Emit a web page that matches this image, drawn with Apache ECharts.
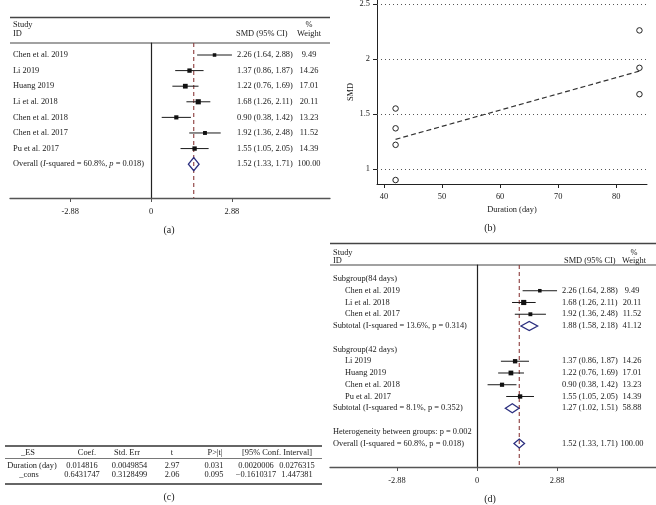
<!DOCTYPE html>
<html><head><meta charset="utf-8">
<script src="https://cdn.jsdelivr.net/npm/echarts@6/dist/echarts.min.js"></script>
<style>html,body{margin:0;padding:0;background:#fff}#c{width:656px;height:505px}</style>
</head><body><div id="c"></div>
<script>
// ---------- data ----------
const studies = ['Chen et al. 2019','Li 2019','Huang 2019','Li et al. 2018','Chen et al. 2018','Chen et al. 2017','Pu et al. 2017'];
const smd = [2.26,1.37,1.22,1.68,0.90,1.92,1.55];
const ciLow = [1.64,0.86,0.76,1.26,0.38,1.36,1.05];
const ciHigh = [2.88,1.87,1.69,2.11,1.42,2.48,2.05];
const weights = [9.49,14.26,17.01,20.11,13.23,11.52,14.39];
const durationDays = [84,42,42,84,42,84,42];

const overallSMD = 1.52, overallLow = 1.33, overallHigh = 1.71, overallWeight = 100.00;
const overallI2 = '60.8%', overallP = '0.018';

const subgroupDays = [84,42];
const subtotalSMD = [1.88,1.27];
const subtotalLow = [1.58,1.02];
const subtotalHigh = [2.18,1.51];
const subtotalWeight = [41.12,58.88];
const subtotalI2 = ['13.6%','8.1%'];
const subtotalP = ['0.314','0.352'];
const heterogeneityP = '0.002';

const forestTicks = [-2.88,0,2.88];
const durationTicks = [40,50,60,70,80];
const smdTicks = [1,1.5,2,2.5];
const fitDays = [42,84];
const fitSMD = [1.27,1.89];

const tableHeader = ['_ES','Coef.','Std. Err','t','P>|t|','[95% Conf. Interval]'];
const tableRowNames = ['Duration (day)','_cons'];
const tableCoef = ['0.014816','0.6431747'];
const tableStdErr = ['0.0049854','0.3128499'];
const tableT = ['2.97','2.06'];
const tableP = ['0.031','0.095'];
const tableCILow = ['0.0020006','\u22120.1610317'];
const tableCIHigh = ['0.0276315','1.447381'];

// ---------- styling ----------
const SERIF = '"Liberation Serif","Times New Roman",serif';
const FS = 8.4;
const TXT = '#1a1a1a';
const NULLC = '#8b3a3a';
const DIAC = '#2b2f7f';
const base = {fontFamily:SERIF, fontSize:FS, fill:TXT};
const fmtCI = (e,l,h) => `${e.toFixed(2)} (${l.toFixed(2)}, ${h.toFixed(2)})`;

// panel a rows
const marksA = studies.map((s,i)=>[smd[i], i, ciLow[i], ciHigh[i], weights[i], 0]);
marksA.push([overallSMD, 7, overallLow, overallHigh, overallWeight, 1]);
const textA = studies.map((s,i)=>({row:i, x:13, label:s, ci:fmtCI(smd[i],ciLow[i],ciHigh[i]), w:weights[i].toFixed(2)}));
textA.push({row:7, x:13,
  label:`{n|Overall (}{i|I}{n|-squared = ${overallI2}, }{i|p}{n| = ${overallP})}`,
  rich:{n:{fontFamily:SERIF,fontSize:FS,fill:TXT}, i:{fontFamily:SERIF,fontSize:FS,fill:TXT,fontStyle:'italic'}},
  ci:fmtCI(overallSMD,overallLow,overallHigh), w:overallWeight.toFixed(2)});

// panel d rows
const marksD = [], textD = [];
let r = 0;
subgroupDays.forEach((d,g)=>{
  textD.push({row:r, x:333, label:`Subgroup(${d} days)`}); r++;
  studies.forEach((s,i)=>{
    if (durationDays[i] !== d) return;
    marksD.push([smd[i], r, ciLow[i], ciHigh[i], weights[i], 0]);
    textD.push({row:r, x:345, label:s, ci:fmtCI(smd[i],ciLow[i],ciHigh[i]), w:weights[i].toFixed(2)});
    r++;
  });
  marksD.push([subtotalSMD[g], r, subtotalLow[g], subtotalHigh[g], subtotalWeight[g], 1]);
  textD.push({row:r, x:333, label:`Subtotal (I-squared = ${subtotalI2[g]}, p = ${subtotalP[g]})`,
    ci:fmtCI(subtotalSMD[g],subtotalLow[g],subtotalHigh[g]), w:subtotalWeight[g].toFixed(2)});
  r += 2;
});
textD.push({row:r, x:333, label:`Heterogeneity between groups: p = ${heterogeneityP}`}); r++;
marksD.push([overallSMD, r, overallLow, overallHigh, overallWeight, 1]);
textD.push({row:r, x:333, label:`Overall (I-squared = ${overallI2}, p = ${overallP})`,
  ci:fmtCI(overallSMD,overallLow,overallHigh), w:overallWeight.toFixed(2)});

function forestRender(halfH){
  return function(params, api){
    const est=api.value(0), row=api.value(1), lo=api.value(2), hi=api.value(3), w=api.value(4), kind=api.value(5);
    const c=api.coord([est,row]), l=api.coord([lo,row]), h=api.coord([hi,row]);
    if (kind === 0){
      const s = Math.sqrt(w)*1.15;
      return {type:'group', children:[
        {type:'line', shape:{x1:l[0],y1:c[1],x2:h[0],y2:c[1]}, style:{stroke:'#1a1a1a',lineWidth:1}},
        {type:'rect', shape:{x:c[0]-s/2,y:c[1]-s/2,width:s,height:s}, style:{fill:'#111'}}
      ]};
    }
    const t=api.coord([est,row-halfH]), b=api.coord([est,row+halfH]);
    return {type:'polygon', shape:{points:[[l[0],c[1]],[c[0],t[1]],[h[0],c[1]],[c[0],b[1]]]},
      style:{fill:'none',stroke:DIAC,lineWidth:1.3}};
  };
}
function textRender(rows, ciX, wX){
  return function(params, api){
    const t = rows[params.dataIndex];
    const y = api.coord([0, api.value(1)])[1];
    const kids = [];
    const st = Object.assign({text:t.label, align:'left', verticalAlign:'middle'}, base);
    if (t.rich) st.rich = t.rich;
    kids.push({type:'text', x:t.x, y:y, style:st});
    if (t.ci) kids.push({type:'text', x:ciX, y:y, style:Object.assign({text:t.ci, align:'left', verticalAlign:'middle'}, base)});
    if (t.w) kids.push({type:'text', x:wX, y:y, style:Object.assign({text:t.w, align:'center', verticalAlign:'middle'}, base)});
    return {type:'group', children:kids};
  };
}

const yA = [-0.77, 9.17];
const yD = [-1.19, 16.0];

function forestX(grid, min, max){
  return {gridIndex:grid, type:'value', min:min, max:max,
    axisLine:{onZero:false, lineStyle:{color:'#555', width:1.3}},
    axisTick:{show:true, customValues:forestTicks, length:4, lineStyle:{color:'#555'}},
    axisLabel:{customValues:forestTicks, formatter:v=> v===0?'0':Number(v).toFixed(2), fontFamily:SERIF, fontSize:FS, color:TXT, margin:10},
    splitLine:{show:false}};
}
function forestY(grid, ext){
  return {gridIndex:grid, type:'value', inverse:true, min:ext[0], max:ext[1],
    axisLine:{show:true, onZero:true, lineStyle:{color:'#222', width:1.2}},
    axisTick:{show:false}, axisLabel:{show:false}, splitLine:{show:false}};
}

// graphics: header lines, headers, table (c), panel labels
const g = [];
const hline = (x1,x2,y,w,c) => g.push({type:'line', shape:{x1:x1,y1:y,x2:x2,y2:y}, style:{stroke:c||'#444', lineWidth:w}, silent:true});
const txt = (x,y,s,align,size) => g.push({type:'text', x:x, y:y, silent:true,
  style:{text:s, align:align||'left', textAlign:align||'left', verticalAlign:'middle', textVerticalAlign:'middle', fontFamily:SERIF, fontSize:size||FS, fill:TXT}});

hline(10,330,17.5,1.3); hline(10,330,43,1.2);
txt(13,25,'Study'); txt(13,34,'ID'); txt(236,34,'SMD (95% CI)'); txt(309,25,'%','center'); txt(309,34,'Weight','center');
hline(330,656,243.5,1.3); hline(330,656,265,1.2);
txt(333,252.5,'Study'); txt(333,260.5,'ID'); txt(564,260.5,'SMD (95% CI)'); txt(634,252.5,'%','center'); txt(634,260.5,'Weight','center');

// table (c)
hline(5,322,446,1.3,'#333'); hline(5,322,458.5,0.8,'#555'); hline(5,322,484,1.3,'#333');
const colX = [28,87,127,172,215,277];
tableHeader.forEach((h,i)=>txt(colX[i],452.5,h,'center'));
const rowY = [465.5,474.5];
tableRowNames.forEach((n,i)=>{
  txt(i===0?32:29,rowY[i],n,'center');
  txt(82,rowY[i],tableCoef[i],'center');
  txt(129.5,rowY[i],tableStdErr[i],'center');
  txt(172,rowY[i],tableT[i],'center');
  txt(214,rowY[i],tableP[i],'center');
  txt(256,rowY[i],tableCILow[i],'center');
  txt(297,rowY[i],tableCIHigh[i],'center');
});
txt(169,230,'(a)','center',10); txt(490,228,'(b)','center',10);
txt(169,497,'(c)','center',10); txt(490,499,'(d)','center',10);

const option = {
  animation:false,
  backgroundColor:'#fff',
  grid:[
    {left:10, top:43, width:320, height:155},
    {left:377, top:0, width:270, height:184},
    {left:330, top:265, width:326, height:202}
  ],
  xAxis:[
    forestX(0,-5.02,6.37),
    {gridIndex:1, type:'value', min:38.8, max:85.3,
      name:'Duration (day)', nameLocation:'middle', nameGap:22, nameTextStyle:{fontFamily:SERIF, fontSize:FS, color:TXT},
      axisLine:{onZero:false, lineStyle:{color:'#222', width:1}},
      axisTick:{customValues:durationTicks, length:4, lineStyle:{color:'#222'}},
      axisLabel:{customValues:durationTicks, fontFamily:SERIF, fontSize:FS, color:TXT, margin:9},
      splitLine:{show:false}},
    forestX(2,-5.29,6.44)
  ],
  yAxis:[
    forestY(0,yA),
    {gridIndex:1, type:'value', min:0.864, max:2.536,
      name:'SMD', nameLocation:'middle', nameGap:22, nameRotate:90, nameTextStyle:{fontFamily:SERIF, fontSize:FS, color:TXT},
      axisLine:{show:true, onZero:false, lineStyle:{color:'#222', width:1}},
      axisTick:{show:true, customValues:smdTicks, length:4, lineStyle:{color:'#222'}},
      axisLabel:{customValues:smdTicks, formatter:v=>String(v), fontFamily:SERIF, fontSize:FS, color:TXT, margin:7},
      splitLine:{show:false}},
    forestY(2,yD)
  ],
  graphic:{elements:g},
  series:[
    {type:'line', xAxisIndex:0, yAxisIndex:0, silent:true, symbol:'none', z:1,
      data:[[overallSMD,yA[0]],[overallSMD,yA[1]]], lineStyle:{color:NULLC, type:[4,3], width:1.1}},
    {type:'custom', xAxisIndex:0, yAxisIndex:0, z:3, silent:true, renderItem:forestRender(0.42), data:marksA},
    {type:'custom', xAxisIndex:0, yAxisIndex:0, z:3, silent:true, renderItem:textRender(textA,237,309), data:textA.map(t=>[0,t.row])},

    {type:'scatter', xAxisIndex:1, yAxisIndex:1, symbol:'circle', symbolSize:5.5, silent:true, z:5,
      itemStyle:{color:'#ffffff', borderColor:'#222', borderWidth:1, opacity:1},
      data:smd.map((v,i)=>[durationDays[i], v]),
      markLine:{silent:true, symbol:'none', label:{show:false}, animation:false,
        lineStyle:{color:'#555', type:[1,3], width:1},
        data:smdTicks.map(v=>({yAxis:v}))}},
    {type:'line', xAxisIndex:1, yAxisIndex:1, silent:true, symbol:'none', z:2,
      data:fitDays.map((d,i)=>[d, fitSMD[i]]), lineStyle:{color:'#333', type:[5,3], width:1.2}},

    {type:'line', xAxisIndex:2, yAxisIndex:2, silent:true, symbol:'none', z:1,
      data:[[overallSMD,yD[0]],[overallSMD,yD[1]]], lineStyle:{color:NULLC, type:[4,3], width:1.1}},
    {type:'custom', xAxisIndex:2, yAxisIndex:2, z:3, silent:true, renderItem:forestRender(0.38), data:marksD},
    {type:'custom', xAxisIndex:2, yAxisIndex:2, z:3, silent:true, renderItem:textRender(textD,562,632), data:textD.map(t=>[0,t.row])}
  ]
};
const chart = echarts.init(document.getElementById('c'), null, {renderer:'canvas'});
chart.setOption(option);
</script></body></html>
